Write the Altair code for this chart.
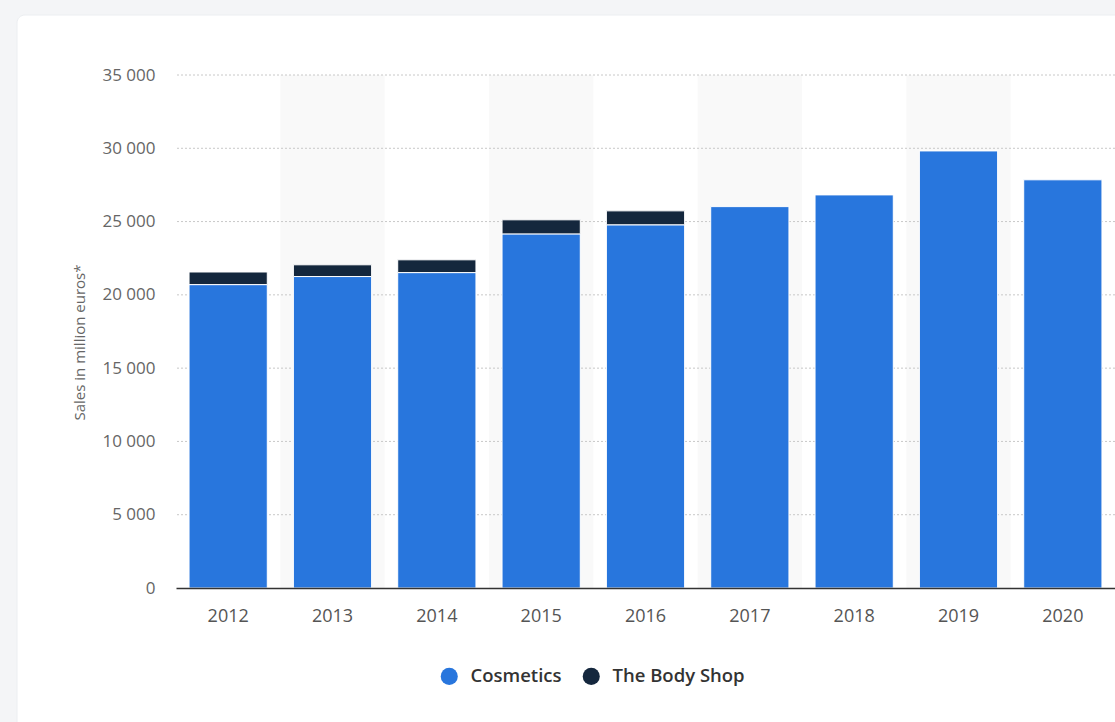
import altair as alt
import pandas as pd

years = ["2012", "2013", "2014", "2015", "2016", "2017", "2018", "2019", "2020"]
cosmetics = [20700, 21250, 21520, 24160, 24780, 26020, 26820, 29820, 27850]
body_shop = [860, 800, 870, 960, 950, None, None, None, None]
band_years = ["2013", "2015", "2017", "2019"]
grid_values = [5000, 10000, 15000, 20000, 25000, 30000, 35000]
tick_values = [0, 5000, 10000, 15000, 20000, 25000, 30000, 35000]
segments = ["Cosmetics", "The Body Shop"]
seg_colors = ["#2876dd", "#14273d"]

rows = []
for y, c, b in zip(years, cosmetics, body_shop):
    rows.append({"year": y, "segment": "Cosmetics", "value": c, "order": 0})
    if b is not None:
        rows.append({"year": y, "segment": "The Body Shop", "value": b, "order": 1})
df = pd.DataFrame(rows)
bands = pd.DataFrame({"year": band_years})
grid = pd.DataFrame({"v": grid_values})
one = pd.DataFrame({"a": [0]})

W, H = 939, 513
FONT = "Open Sans"

card = alt.Chart(one).mark_rect(color="white", cornerRadius=8, stroke="#eceef1", strokeWidth=1).encode(
    x=alt.value(-159), x2=alt.value(1000), y=alt.value(-60), y2=alt.value(700)
)

band = alt.Chart(bands).mark_rect(color="#f9f9f9").encode(
    x=alt.X("year:N", scale=alt.Scale(domain=years, paddingInner=0, paddingOuter=0), axis=None),
    y=alt.value(0),
    y2=alt.value(H),
)

yscale = alt.Scale(domain=[0, 35000], nice=False, zero=True)

gridrules = alt.Chart(grid).mark_rule(color="#c8c8c8", strokeWidth=1, strokeDash=[2, 2]).encode(
    y=alt.Y("v:Q", scale=yscale)
)

bars = alt.Chart(df).mark_bar(stroke="white", strokeWidth=1).encode(
    x=alt.X(
        "year:N",
        scale=alt.Scale(domain=years, paddingInner=0.25, paddingOuter=0.125),
        axis=alt.Axis(
            title=None, labelAngle=0, ticks=False, domain=True, domainColor="#333333",
            domainWidth=1.5, labelPadding=19, labelFontSize=18, labelColor="#555555",
            labelFont=FONT, grid=False, zindex=2,
        ),
    ),
    y=alt.Y(
        "value:Q",
        stack="zero",
        scale=yscale,
        axis=alt.Axis(
            title="Sales in million euros*", values=tick_values,
            labelExpr="replace(format(datum.value, ','), ',', ' ')",
            ticks=False, domain=False, grid=False, labelPadding=21,
            labelFontSize=17, labelColor="#666666", labelFont=FONT,
            titleFont=FONT, titleFontSize=15, titleFontWeight="normal",
            titleColor="#666666", titleX=-97, titleY=267, titleAngle=270,
            titleAlign="center", titleBaseline="middle", zindex=2,
        ),
    ),
    color=alt.Color(
        "segment:N",
        scale=alt.Scale(domain=segments, range=seg_colors),
        legend=alt.Legend(
            title=None, orient="none", legendX=264, legendY=592, direction="horizontal",
            symbolType="circle", symbolSize=290, symbolStrokeWidth=0, labelFontSize=18.5,
            labelFont=FONT, labelFontWeight=600, labelColor="#333333", columnPadding=20,
            labelOffset=12, padding=0, zindex=2,
        ),
    ),
    order=alt.Order("order:Q"),
)

chart = alt.layer(card, band, gridrules, bars).resolve_scale(x="independent").properties(
    width=W,
    height=H,
    autosize=alt.AutoSizeParams(type="none"),
    padding={"left": 176, "top": 75, "right": 0, "bottom": 134},
    background="#f4f5f7",
).configure_view(stroke=None)

chart.save("out.html", embed_options={"renderer": "svg", "actions": False})
